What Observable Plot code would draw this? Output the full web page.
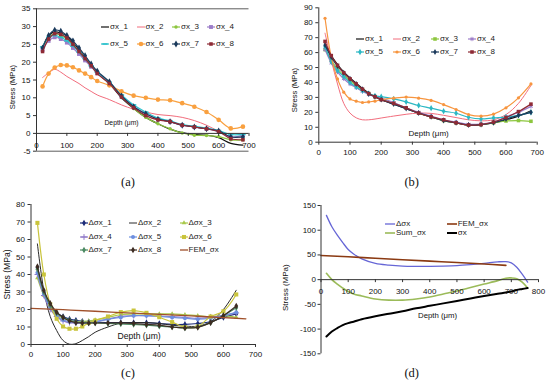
<!DOCTYPE html>
<html><head><meta charset="utf-8">
<script src="https://cdn.jsdelivr.net/npm/d3@7"></script>
<script src="https://cdn.jsdelivr.net/npm/@observablehq/plot@0.6"></script>
<style>
html,body{margin:0;padding:0;background:#fff;}
#root{position:relative;width:550px;height:387px;overflow:hidden;font-family:Arial,"Liberation Sans",Helvetica,sans-serif;color:#222;}
.panel{position:absolute;}
.panel svg{overflow:visible;display:block;max-width:none;}
.cap{position:absolute;font-family:"Liberation Serif","Times New Roman",serif;font-size:12.5px;transform:translate(-50%,-50%);white-space:nowrap;color:#111;z-index:10;}
.leg{position:absolute;display:flex;align-items:center;font-size:8px;line-height:1;white-space:nowrap;transform:translateY(-50%);color:#222;z-index:10;}
.leg svg{display:block;margin-right:1px;overflow:visible;}
</style></head><body><div id="root"></div>
<script>
// ---------- Panel (a) ----------
const depthA = [20,40,60,80,100,120,140,160,180,200,240,280,320,360,400,440,480,520,560,600,640,680];
const sigA1 = [24,27.5,28.5,28.2,27.3,25.5,23.5,21.2,19,17,14,10,7,4.5,2.7,1.2,0.2,-0.3,-0.5,-1.2,-2.8,-3.3];
const sigA2 = [15.7,17,18,17.2,16,15,14,12.8,11.8,10.8,9.5,8,6.8,6,5.3,5,4.5,3.6,2.3,0.6,-1,-1.2];
const sigA3 = [24,27,28,27.5,26.5,25,23,21,19,17,14,10.5,7,4.5,2.7,1.3,0.1,-0.5,-0.6,-0.9,-1.8,-1.8];
const sigA4 = [23.5,26,27,26.5,25.5,24,22.3,20.5,18.7,17,14,10.5,7.5,5.5,4,3.3,2.3,1.8,1.3,0.5,-1,-0.5];
const sigA5 = [24.3,27,27.5,27,26,24.5,22.8,21,19,17.2,14.3,10.8,8,6,4.3,3.5,2.5,2,1.5,0.8,-0.3,-0.3];
const sigA6 = [13.2,16.8,18.5,19.2,19.1,18.6,17.7,16.8,15.8,14.7,13.5,11.8,10.6,10,9.5,9.3,8.5,7.5,6,3.8,1.4,1.9];
const sigA7 = [24,27.5,29,28.7,27.5,26,24,21.8,19.5,17.5,14.5,10.5,7.5,5.5,4,3.3,2.3,1.8,1.3,0.7,-1,-1];
const sigA8 = [23,26.5,28,27.8,26.8,25,23,21,19,16.8,14,10.2,7.2,5,3.8,3.3,2.3,1.8,1.3,0.5,-1.5,-1.8];
const namesA = ["σx_1","σx_2","σx_3","σx_4","σx_5","σx_6","σx_7","σx_8"];
const xTicksA = [0,100,200,300,400,500,600,700];
const yTicksA = [-5,0,5,10,15,20,25,30,35];

// ---------- Panel (b) ----------
const depthB = [20,40,60,80,100,120,140,160,180,200,240,280,320,360,400,440,480,520,560,600,640,680];
const sigB1 = [66,58,52,47,43,39.5,36,33,30.5,28.5,25.5,22.5,19.5,17,14.5,13,11.5,11.8,13,15,17.5,21];
const sigB2 = [73,55,39,26,19.5,16.3,15,15,15.5,16.2,17.5,18.7,19.5,19.3,18,16.5,15,14.3,15,18.5,26,38];
const sigB3 = [62,55,49,45,41,38,35,32.5,30.5,29,26,23,19.5,17,14.5,13,11.5,11.8,13,14.2,14.5,14];
const sigB4 = [62,53,47,42.5,39,36.5,34,32,30.5,29.5,26.5,23,20,17.5,15,13.5,12,12.2,13.5,17,20,24];
const sigB5 = [64,54,48,44,40,37,34.5,32.5,31,30.5,29,27,24.6,22.8,20.8,19.4,16.7,15.6,16.3,16.8,18,20];
const sigB6 = [83,57,42.4,33.5,29,27.5,26.6,27,27.5,28.4,29.5,30.2,29.5,28,25.2,21.9,18.5,17.4,18.8,23,29.7,39];
const sigB7 = [65,57,51,46.5,42.5,39,35.5,32.5,30.5,28.5,25.5,22.5,19.5,17,14.5,13,11.5,11.8,13,15.5,18,20];
const sigB8 = [67.5,58,51.5,46.5,42.5,39,35.5,32.5,30.5,28.5,26,23,19.5,17,15,13,11.5,11.8,13.5,16.5,20.5,25.5];
const namesB = ["σx_1","σx_2","σx_3","σx_4","σx_5","σx_6","σx_7","σx_8"];
const xTicksB = [0,100,200,300,400,500,600,700];
const yTicksB = [0,10,20,30,40,50,60,70,80,90];

// ---------- Panel (c) ----------
const depthC = [20,40,60,80,100,120,140,160,180,200,240,280,320,360,400,440,480,520,560,600,640];
const dC1 = [44,30,22,18,16,14.5,13.8,13.3,13,12.8,12.5,12.5,12.5,12.5,12,11.5,11.5,12,13,15.5,17.5];
const dC2 = [57.5,31,16,8,2.3,0.2,0.5,2.3,4.5,7,10,12.2,12.5,12.5,12,11,10.5,10.5,13,20,31];
const dC3 = [38,28,21,17,15,13.5,13,13,13.5,14,15.5,17,17.5,17.5,17.5,17.5,17,16.5,16,16.5,15.5];
const dC4 = [40,28,20,16,13.5,12.5,12.3,12.3,12.5,13,14.5,16,16.5,16.5,16.3,16,15.5,15,15.5,16.5,18];
const dC5 = [41,29,21,16.5,14,13,12.5,12.5,12.8,13,14.5,15.5,16.5,16.5,16,15.5,15,14.5,15,16.5,18.5];
const dC6 = [69.5,40,23,14.7,10.3,9,9,10.3,12.3,13.7,16,18.5,19.4,18.1,15.6,12.8,9.9,10.3,16,19,28.6];
const dC7 = [43,30,22.5,18,15.5,14,13,12.5,12.3,12.3,12,11.8,11.5,11,10.5,10,9.5,10,12.5,16.5,21];
const dC8 = [44.5,31,23.5,18.5,15.5,13.5,12.5,12.3,12.3,12.3,12.3,12.3,12,11.5,11,10,9.5,9.8,12.5,16.5,22];
const depthFemC = [0,100,200,300,400,500,600,670];
const femC = [20.7,19.9,19,18.1,17.2,16.3,15.4,14.7];
const namesC = ["Δσx_1","Δσx_2","Δσx_3","Δσx_4","Δσx_5","Δσx_6","Δσx_7","Δσx_8","FEM_σx"];
const xTicksC = [0,100,200,300,400,500,600,700];
const yTicksC = [0,10,20,30,40,50,60,70,80];

// ---------- Panel (d) ----------
const depthD = [20,40,60,80,100,120,150,200,250,300,350,400,450,500,550,600,650,680,700,720,740,760];
const deltaD = [130,107,90,75,61,52,42,33,29.5,27.5,27,27,27.5,28.5,30.5,33,36,36.5,34,25,11,-5];
const sumD = [12.7,0,-9,-17,-24,-29,-33,-39,-41.5,-41.5,-39,-35,-29,-23,-16,-9,-2,3,3.5,2,-5,-17];
const sigD = [-115,-105,-98,-92,-88,-85,-80,-74,-69,-64,-58,-53,-48,-43,-38,-33,-28.5,-26,-24,-21,-19,-17];
const depthFemD = [0,100,200,300,400,500,600,680];
const femD = [49,46.2,43.3,40.4,37.5,34.6,31.6,28.8];
const namesD = ["Δσx","FEM_σx","Sum_σx","σx"];
const xTicksD = [0,100,200,300,400,500,600,700,800];
const yTicksD = [-150,-100,-50,0,50,100,150];

// ---------- helpers ----------
const FONT = 'Arial, "Liberation Sans", Helvetica, sans-serif';
const AX = "#333";
const dashSymbol = {draw(ctx, size) { const w = Math.sqrt(size) * 1.5, h = Math.max(1.3, w * 0.3); ctx.rect(-w / 2, -h / 2, w, h); }};
const D3SYM = {circle: d3.symbolCircle, square: d3.symbolSquare, diamond: d3.symbolDiamond, plus: d3.symbolPlus,
  asterisk: d3.symbolAsterisk, cross: d3.symbolCross, triangle: d3.symbolTriangle, star: d3.symbolStar, dash: dashSymbol};
const STROKE_SYM = new Set(["plus", "asterisk"]);

function S(name, depth, vals, color, sym, r, lw) { return {name, depth, vals, color, sym, r, lw}; }

function seriesMarks(s) {
  const rows = s.depth.map((d, i) => ({x: d, y: s.vals[i]}));
  const out = [Plot.line(rows, {x: "x", y: "y", curve: "catmull-rom", stroke: s.color, strokeWidth: s.lw ?? 1.3})];
  if (s.sym) {
    const st = STROKE_SYM.has(s.sym);
    out.push(Plot.dot(rows, {x: "x", y: "y", symbol: s.sym === "dash" ? dashSymbol : s.sym, r: s.r ?? 2,
      fill: st ? "none" : s.color, stroke: st ? s.color : "none", strokeWidth: 1}));
  }
  return out;
}

let zi = 1;
function panel(p) {
  const marks = [];
  const pxPerX = (p.width - p.m[0] - p.m[1]) / (p.xDomain[1] - p.xDomain[0]);
  const yTickLen = 3 / pxPerX;
  const xMin = p.xDomain[0];
  if (p.frameRules) marks.push(Plot.ruleY(p.frameRules, {y: d => d, stroke: AX, strokeWidth: 0.8}));
  for (const s of p.series) marks.push(...seriesMarks(s));
  marks.push(Plot.ruleY([p.xAxisAt], {y: d => d, stroke: AX, strokeWidth: 1}));
  marks.push(Plot.ruleX([xMin], {x: d => d, stroke: AX, strokeWidth: 1}));
  marks.push(Plot.ruleX(p.xTicks, {x: d => d, y1: () => p.xAxisAt, y2: () => p.xAxisAt - p.tickLen, stroke: AX}));
  marks.push(Plot.text(p.xTicks, {x: d => d, y: () => p.xAxisAt, dy: p.xLabelDy, text: d => String(d), fontSize: 8, fill: "#111"}));
  marks.push(Plot.ruleY(p.yTicks, {y: d => d, x1: () => xMin, x2: () => xMin - yTickLen, stroke: AX}));
  marks.push(Plot.text(p.yTicks, {x: () => xMin, y: d => d, dx: -(3 + (p.yPad ?? 3)), textAnchor: "end", text: d => String(d), fontSize: 8, fill: "#111"}));
  marks.push(Plot.text([p.depthLabel], {x: d => d.x, y: d => d.y, text: () => "Depth (μm)", fontSize: p.depthFont, fill: "#111"}));
  marks.push(Plot.text(["Stress (MPa)"], {frameAnchor: "left", textAnchor: "middle", lineAnchor: "middle", dx: p.stressDx, dy: p.stressDy, rotate: -90, text: d => d, fontSize: p.stressFont ?? 8, fill: "#111"}));
  const svg = Plot.plot({
    width: p.width, height: p.height,
    marginLeft: p.m[0], marginRight: p.m[1], marginTop: p.m[2], marginBottom: p.m[3],
    x: {domain: p.xDomain, axis: null},
    y: {domain: p.yDomain, axis: null},
    style: {fontFamily: FONT, fontSize: "8px", color: "#222", background: "transparent", overflow: "visible"},
    marks
  });
  const div = document.createElement("div");
  div.className = "panel";
  div.style.left = p.left + "px"; div.style.top = p.top + "px";
  div.style.width = p.width + "px"; div.style.height = p.height + "px";
  div.style.zIndex = zi++;
  div.appendChild(svg);
  root.appendChild(div);
}

function swatch(s, w) {
  const ns = "http://www.w3.org/2000/svg";
  const svg = document.createElementNS(ns, "svg");
  svg.setAttribute("width", w); svg.setAttribute("height", 8);
  const line = document.createElementNS(ns, "line");
  line.setAttribute("x1", 0); line.setAttribute("x2", w); line.setAttribute("y1", 4); line.setAttribute("y2", 4);
  line.setAttribute("stroke", s.color); line.setAttribute("stroke-width", s.lw ?? 1.3);
  svg.appendChild(line);
  if (s.sym) {
    const r = s.r ?? 2;
    const path = document.createElementNS(ns, "path");
    path.setAttribute("d", d3.symbol(D3SYM[s.sym], Math.PI * r * r)());
    path.setAttribute("transform", `translate(${w / 2},4)`);
    const st = STROKE_SYM.has(s.sym);
    path.setAttribute("fill", st ? "none" : s.color);
    path.setAttribute("stroke", st ? s.color : "none");
    path.setAttribute("stroke-width", 1);
    svg.appendChild(path);
  }
  return svg;
}

function legend(series, cols, rows, w) {
  series.forEach((s, i) => {
    const c = i % cols.length, r = Math.floor(i / cols.length);
    const div = document.createElement("div");
    div.className = "leg";
    div.style.left = cols[c] + "px"; div.style.top = rows[r] + "px";
    div.appendChild(swatch(s, w));
    const span = document.createElement("span");
    span.textContent = s.name;
    div.appendChild(span);
    root.appendChild(div);
  });
}

function caption(text, x, y) {
  const d = document.createElement("div");
  d.className = "cap"; d.textContent = text;
  d.style.left = x + "px"; d.style.top = y + "px";
  root.appendChild(d);
}

const root = document.getElementById("root");

// ----- (a)
const seriesA = [
  S(namesA[0], depthA, sigA1, "#111111", null, 0, 1.2),
  S(namesA[1], depthA, sigA2, "#f26d7d", null, 0, 1.0),
  S(namesA[2], depthA, sigA3, "#8dc63f", "circle", 1.7, 1.2),
  S(namesA[3], depthA, sigA4, "#9c7dc9", "square", 2.2, 1.2),
  S(namesA[4], depthA, sigA5, "#2cc1cc", "dash", 2.0, 1.2),
  S(namesA[5], depthA, sigA6, "#f9a03f", "circle", 2.3, 1.2),
  S(namesA[6], depthA, sigA7, "#1b3a5c", "diamond", 2.1, 1.2),
  S(namesA[7], depthA, sigA8, "#8e2a35", "square", 2.0, 1.2)
];
panel({left: 0, top: 0, width: 270, height: 165, m: [36, 21.5, 8.3, 14.3],
  xDomain: [0, 700], yDomain: [-5, 35], xTicks: xTicksA, yTicks: yTicksA,
  series: seriesA, xAxisAt: 0, tickLen: 0.85, xLabelDy: 12, frameRules: [35, -5],
  depthLabel: {x: 280, y: 2.9}, depthFont: 6.8, stressDx: -24.3, stressDy: 7, stressFont: 7.6});
legend(seriesA, [101, 136.5, 172, 207], [26.7, 44.3], 8);
caption("(a)", 128, 182);

// ----- (b)
const seriesB = [
  S(namesB[0], depthB, sigB1, "#111111", null, 0, 1.2),
  S(namesB[1], depthB, sigB2, "#f26d7d", null, 0, 1.0),
  S(namesB[2], depthB, sigB3, "#8dc63f", "square", 2.0, 1.2),
  S(namesB[3], depthB, sigB4, "#9c7dc9", "asterisk", 2.0, 1.2),
  S(namesB[4], depthB, sigB5, "#2cb8c4", "diamond", 1.9, 1.2),
  S(namesB[5], depthB, sigB6, "#f7953f", "circle", 1.6, 1.2),
  S(namesB[6], depthB, sigB7, "#1b3a5c", "diamond", 1.8, 1.2),
  S(namesB[7], depthB, sigB8, "#8e2a35", "square", 2.0, 1.2)
];
panel({left: 275, top: 0, width: 275, height: 165, m: [43.3, 13.3, 7.3, 23.3],
  xDomain: [0, 700], yDomain: [0, 90], xTicks: xTicksB, yTicks: yTicksB,
  series: seriesB, xAxisAt: 0, tickLen: 2, xLabelDy: 10,
  depthLabel: {x: 352, y: 6}, depthFont: 8, stressDx: -24.3, stressDy: 15, stressFont: 7.6});
legend(seriesB, [356, 393, 431, 468], [39.3, 51.7], 8);
caption("(b)", 411.7, 181.7);

// ----- (c)
const seriesC = [
  S(namesC[0], depthC, dC1, "#1c2b78", "diamond", 2.0, 1.2),
  S(namesC[1], depthC, dC2, "#2a2a2a", null, 0, 1.0),
  S(namesC[2], depthC, dC3, "#a9c94a", "triangle", 1.7, 1.2),
  S(namesC[3], depthC, dC4, "#8f78c8", "plus", 2.0, 1.2),
  S(namesC[4], depthC, dC5, "#6d8fe0", "circle", 2.0, 1.2),
  S(namesC[5], depthC, dC6, "#c9c43c", "square", 2.3, 1.2),
  S(namesC[6], depthC, dC7, "#4b8a62", "diamond", 2.0, 1.2),
  S(namesC[7], depthC, dC8, "#3d2c22", "diamond", 2.0, 1.2),
  S(namesC[8], depthFemC, femC, "#a0502a", null, 0, 1.3)
];
panel({left: 0, top: 190, width: 270, height: 175, m: [30.5, 15, 14, 21],
  xDomain: [0, 700], yDomain: [0, 80], xTicks: xTicksC, yTicks: yTicksC,
  series: seriesC, xAxisAt: 0, tickLen: 1.7, xLabelDy: 10,
  depthLabel: {x: 337, y: 4.7}, depthFont: 8.6, stressDx: -23.8, stressDy: 0, stressFont: 8.6});
legend(seriesC, [79.5, 129, 179.5], [222.8, 236.5, 250], 8);
caption("(c)", 128, 372.7);

// ----- (d)
const seriesD = [
  S(namesD[0], depthD, deltaD, "#6666d6", null, 0, 1.3),
  S(namesD[1], depthFemD, femD, "#8b3a12", null, 0, 1.6),
  S(namesD[2], depthD, sumD, "#9bbb59", null, 0, 1.6),
  S(namesD[3], depthD, sigD, "#000000", null, 0, 2.0)
];
panel({left: 275, top: 190, width: 275, height: 175, m: [45.5, 12, 15, 11.7],
  xDomain: [0, 800], yDomain: [-150, 150], xTicks: xTicksD, yTicks: yTicksD,
  series: seriesD, xAxisAt: 0, tickLen: 6, xLabelDy: 11.7, yPad: 2,
  depthLabel: {x: 429, y: -73}, depthFont: 7.8, stressDx: -35.5, stressDy: 8, stressFont: 8});
legend(seriesD, [385, 446.7], [224.3, 233.3], 10);
caption("(d)", 411.7, 372.7);
</script></body></html>
